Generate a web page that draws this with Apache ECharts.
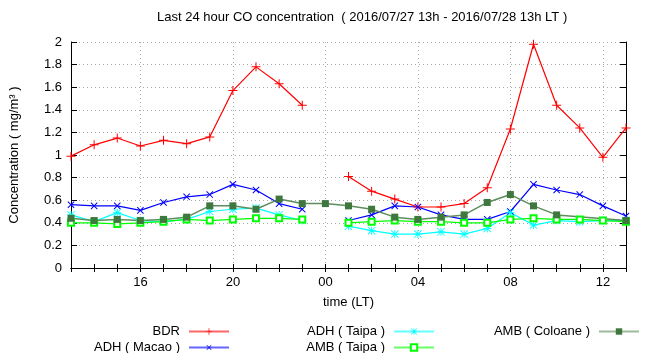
<!DOCTYPE html>
<html lang="en">
<head>
    <meta charset="UTF-8">
    <title>CO concentration</title>
    <script type="text/javascript" src="https://cdn.jsdelivr.net/npm/echarts@6/dist/echarts.min.js"></script>
    <style>
      html, body { margin: 0; padding: 0; background: #fff; }
      #chart { width: 647px; height: 353px; }
    </style>
</head>
<body>
  <div id="chart"></div>

<script type="text/javascript">

  // hours, 27th 13h .. 28th 13h
  var hours = ['13','14','15','16','17','18','19','20','21','22','23',
               '00','01','02','03','04','05','06','07','08','09','10','11','12','13'];
  var majorHours = ['16','20','00','04','08','12'];

  var bdr       = [0.99,1.09,1.15,1.08,1.13,1.10,1.16,1.57,1.78,1.63,1.44,null,
                   0.81,0.68,0.61,0.54,0.54,0.57,0.71,1.23,1.98,1.44,1.24,0.98,1.24];
  var adhMacao  = [0.56,0.55,0.55,0.51,0.58,0.63,0.65,0.74,0.69,0.57,0.52,null,
                   0.42,0.47,0.55,0.54,0.47,0.43,0.43,0.50,0.74,0.69,0.65,0.55,0.46];
  var adhTaipa  = [0.47,0.41,0.49,0.42,0.41,0.43,0.50,0.52,0.53,0.47,0.42,null,
                   0.37,0.33,0.30,0.30,0.32,0.30,0.35,0.49,0.38,0.42,0.41,0.42,0.42];
  var ambTaipa  = [0.40,0.40,0.39,0.40,0.41,0.43,0.42,0.43,0.44,0.44,0.43,null,
                   0.40,0.41,0.42,0.41,0.41,0.40,0.40,0.43,0.44,0.43,0.43,0.42,0.41];
  var ambColoane = [0.44,0.42,0.43,0.42,0.43,0.45,0.55,0.55,0.52,0.61,0.57,0.57,
                    0.55,0.52,0.45,0.43,0.45,0.47,0.58,0.65,0.55,0.47,null,null,0.42];

  var FONT = 'Liberation Sans';

  // marker shapes
  var PLUS = 'path://M4,0h1v9h-1z M0,4h9v1h-9z';
  var STAR = 'path://M4,0h1v9h-1z M0,4h9v1h-9z M0,0.7L0.7,0L9,8.3L8.3,9Z M9,0.7L0.7,9L0,8.3L8.3,0Z';

  function isMajor(idx, val){
    return idx > 0 && idx < hours.length - 1 && majorHours.indexOf(val) >= 0;
  }

  var chart = echarts.init(document.getElementById('chart'), null, {renderer: 'canvas'});

  function lineSeries(name, data, color, symbol, size, extra){
    var s = {
      name: name,
      type: 'line',
      data: data,
      symbol: symbol,
      symbolSize: size,
      showAllSymbol: true,
      connectNulls: false,
      animation: false,
      lineStyle: {color: color, width: 1.2},
      itemStyle: {color: color, borderColor: color, borderWidth: 0}
    };
    for (var k in extra) s[k] = extra[k];
    return s;
  }

  function legendAt(name, right, top){
    return {
      data: [name],
      right: right,
      top: top,
      padding: 0,
      align: 'right',
      itemWidth: 40,
      itemHeight: 8,
      selectedMode: false,
      lineStyle: {width: 2, opacity: 0.6},
      textStyle: {fontFamily: FONT, fontSize: 13, color: '#000', padding: [0, 4, 0, 0]}
    };
  }

  var option = {
    animation: false,
    title: {
      text: 'Last 24 hour CO concentration  ( 2016/07/27 13h - 2016/07/28 13h LT )',
      left: 157,
      top: 11,
      padding: 0,
      textStyle: {fontFamily: FONT, fontSize: 13, fontWeight: 'normal', color: '#000'}
    },
    legend: [
      legendAt('BDR', 417, 325),
      legendAt('ADH ( Macao )', 417, 341),
      legendAt('ADH ( Taipa )', 212, 325),
      legendAt('AMB ( Taipa )', 212, 341),
      legendAt('AMB ( Coloane )', 7, 325)
    ],
    grid: {left: 71, right: 21, top: 42, bottom: 85, containLabel: false, show: false},
    xAxis: [{
      type: 'category',
      data: hours,
      boundaryGap: false,
      name: 'time (LT)',
      nameLocation: 'middle',
      nameGap: 28,
      nameTextStyle: {fontFamily: FONT, fontSize: 13, color: '#000'},
      axisLine: {lineStyle: {color: '#000', width: 1}},
      axisTick: {inside: true, length: 4, interval: 0, lineStyle: {color: '#000'}},
      axisLabel: {
        interval: function(idx, val){ return isMajor(idx, val); },
        fontFamily: FONT, fontSize: 13, color: '#000', margin: 8
      },
      splitLine: {
        show: true,
        interval: function(idx, val){ return isMajor(idx, val); },
        lineStyle: {color: '#aaa', type: [1, 3], width: 1}
      }
    }, {
      type: 'category',
      data: hours,
      boundaryGap: false,
      position: 'top',
      axisLine: {lineStyle: {color: '#000', width: 1}},
      axisTick: {inside: true, length: 4, interval: 0, lineStyle: {color: '#000'}},
      axisLabel: {show: false},
      splitLine: {show: false}
    }],
    yAxis: [{
      type: 'value',
      min: 0,
      max: 2,
      interval: 0.2,
      name: 'Concentration ( mg/m³ )',
      nameLocation: 'middle',
      nameRotate: 90,
      nameGap: 50,
      nameTextStyle: {fontFamily: FONT, fontSize: 13, color: '#000'},
      axisLine: {show: true, lineStyle: {color: '#000', width: 1}},
      axisTick: {show: true, inside: true, length: 6, lineStyle: {color: '#000'}},
      axisLabel: {fontFamily: FONT, fontSize: 13, color: '#000', margin: 9},
      splitLine: {show: true, lineStyle: {color: '#aaa', type: [1, 3], width: 1}}
    }, {
      type: 'value',
      min: 0,
      max: 2,
      interval: 0.2,
      position: 'right',
      axisLine: {show: true, lineStyle: {color: '#000', width: 1}},
      axisTick: {show: true, inside: true, length: 6, lineStyle: {color: '#000'}},
      axisLabel: {show: false},
      splitLine: {show: false}
    }],
    series: [
      lineSeries('BDR', bdr, '#ff0000', PLUS, 9, {}),
      lineSeries('ADH ( Macao )', adhMacao, '#0000ff', PLUS, 9, {symbolRotate: 45}),
      lineSeries('ADH ( Taipa )', adhTaipa, '#00ffff', STAR, 8, {}),
      lineSeries('AMB ( Taipa )', ambTaipa, '#00ff00', 'emptyRect', 6,
                 {itemStyle: {color: '#00ff00', borderColor: '#00ff00', borderWidth: 1.2}}),
      lineSeries('AMB ( Coloane )', ambColoane, '#4a7f4a', 'rect', 7,
                 {connectNulls: true,
                  lineStyle: {color: '#5d8d5d', width: 1.5},
                  itemStyle: {color: '#3f773f'}})
    ]
  };

  chart.setOption(option);
</script>
</body>
</html>
